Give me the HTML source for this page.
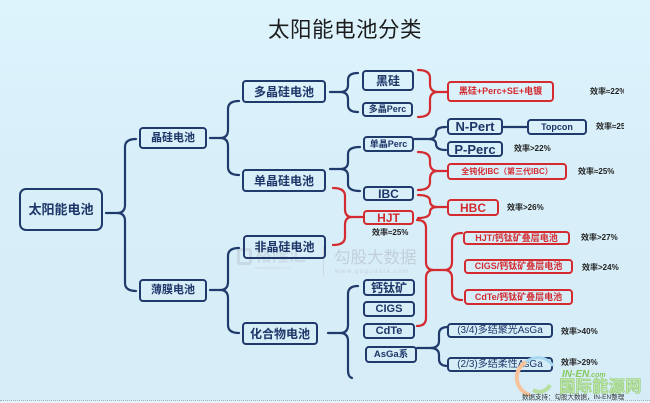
<!DOCTYPE html>
<html><head><meta charset="utf-8">
<style>
html,body{margin:0;padding:0;}
body{width:650px;height:403px;position:relative;overflow:hidden;
background:linear-gradient(#def4fd,#d8eff9 40%,#d6edf8);
font-family:"Liberation Sans","Noto Sans CJK SC",sans-serif;}
#clip{position:absolute;left:0;top:0;width:624px;height:400px;overflow:hidden;}
.b{position:absolute;box-sizing:border-box;border:2px solid #213a6c;border-radius:4px;
display:flex;align-items:center;justify-content:center;color:#1e3668;font-weight:bold;white-space:nowrap;line-height:1;}
.r{border-color:#d42b30;color:#d42b30;}
.t{position:absolute;font-size:8px;font-weight:bold;color:#222;white-space:nowrap;line-height:1;transform:translateY(-50%);}
svg{position:absolute;left:0;top:0;}
</style></head><body>
<div style="position:absolute;left:268px;top:20px;font-size:21.5px;color:#1c1c1c;letter-spacing:0.5px;line-height:1;font-family:'Liberation Sans','Noto Sans CJK SC',sans-serif;">太阳能电池分类</div>

<!-- watermarks -->
<div style="position:absolute;left:237px;top:248px;width:15px;height:17px;border:3px solid #c8d9e5;border-radius:3px;box-sizing:border-box;"></div>
<div style="position:absolute;left:255px;top:247px;font-size:17px;color:#cbdbe6;font-weight:bold;line-height:1;">格隆汇</div>
<div style="position:absolute;left:255px;top:266px;font-size:4px;color:#c6d7e3;line-height:1;">www.gelonghui.com</div>
<div style="position:absolute;left:323px;top:246px;width:1px;height:30px;background:#cbd9e3;"></div>
<div style="position:absolute;left:334px;top:250px;font-size:16.5px;color:#c2cfd9;line-height:1;">勾股大数据</div>
<div style="position:absolute;left:335px;top:269px;font-size:6.5px;color:#c6d1da;letter-spacing:1.1px;line-height:1;">www.gogudata.com</div>

<div id="clip">
<svg width="650" height="403" viewBox="0 0 650 403" fill="none" stroke-linecap="round" stroke-linejoin="round">
<g stroke="#213a6c" stroke-width="2.2">
<path d="M106 213 L117 213 M136 139 Q125 139 125 147 L125 205 Q125 213 117 213 Q125 213 125 221 L125 283 Q125 291 136 291"/>
<path d="M210 138 L220 138 M239 101 Q228 101 228 109 L228 130 Q228 138 220 138 Q228 138 228 146 L228 167 Q228 175 239 175"/>
<path d="M210 290 L220 290 M239 248 Q228 248 228 256 L228 282 Q228 290 220 290 Q228 290 228 298 L228 325 Q228 333 239 333"/>
<path d="M330 92 L340 92 M358 73 Q348 73 348 80 L348 85 Q348 92 340 92 Q348 92 348 99 L348 105 Q348 112 358 112"/>
<path d="M330 169 L340 169 M360 147 Q348 147 348 154 L348 162 Q348 169 340 169 Q348 169 348 176 L348 184 Q348 191 360 191"/>
<path d="M328 333 L340 333 M358 286 Q348 286 348 294 L348 325 Q348 333 340 333 Q348 333 348 341 L348 370 Q348 377 352 378"/>
<path d="M414 139 L428 139 M446 127 Q436 127 436 133 Q436 139 428 139 Q436 139 436 144 Q436 150 446 150"/>
<path d="M417 348 L430 348 M448 327 Q439 327 439 334 L439 341 Q439 348 430 348 Q439 348 439 355 L439 359 Q439 366 448 366"/>
<path d="M503 127 L527 127"/>
</g>
<g stroke="#d42b30" stroke-width="2.2">
<path d="M418 70 Q430 70 430 78 L430 84 Q430 92 438 92 Q430 92 430 100 L430 109 Q430 117 418 117 M438 92 L447 92"/>
<path d="M418 152 Q430 152 430 160 L430 163 Q430 171 438 171 Q430 171 430 179 L430 182 Q430 190 418 190 M438 171 L447 171"/>
<path d="M418 195 Q430 195 430 201 Q430 207 438 207 Q430 207 430 212 Q430 218 418 218 M438 207 L447 207"/>
<path d="M333 188 Q345 188 345 196 L345 209 Q345 217 352 217 Q345 217 345 225 L345 237 Q345 245 333 245 M352 217 L363 217"/>
<path d="M417 220 Q426 220 426 228 L426 262 Q426 270 434 270 Q426 270 426 278 L426 318 Q426 326 417 326 M434 270 L444 270"/>
<path d="M462 233 Q452 233 452 241 L452 262 Q452 270 444 270 Q452 270 452 278 L452 292 Q452 300 462 300"/>
</g>
</svg>

<div class="b" style="left:19px;top:188px;width:84px;height:43px;border-radius:7px;font-size:13px;">太阳能电池</div>
<div class="b" style="left:139px;top:127px;width:68px;height:22px;font-size:11px;">晶硅电池</div>
<div class="b" style="left:139px;top:279px;width:68px;height:23px;font-size:11px;">薄膜电池</div>
<div class="b" style="left:242px;top:80px;width:84px;height:23px;font-size:12px;">多晶硅电池</div>
<div class="b" style="left:242px;top:169px;width:84px;height:23px;font-size:12px;">单晶硅电池</div>
<div class="b" style="left:243px;top:235px;width:83px;height:24px;font-size:12px;">非晶硅电池</div>
<div class="b" style="left:242px;top:322px;width:76px;height:23px;font-size:12px;">化合物电池</div>
<div class="b" style="left:362px;top:70px;width:52px;height:21px;font-size:12px;">黑硅</div>
<div class="b" style="left:362px;top:102px;width:51px;height:15px;font-size:9px;">多晶Perc</div>
<div class="b" style="left:363px;top:136px;width:51px;height:16px;font-size:9px;">单晶Perc</div>
<div class="b" style="left:363px;top:186px;width:51px;height:15px;font-size:12px;">IBC</div>
<div class="b r" style="left:363px;top:210px;width:51px;height:15px;font-size:12px;">HJT</div>
<div class="b" style="left:363px;top:279px;width:52px;height:17px;font-size:12px;">钙钛矿</div>
<div class="b" style="left:363px;top:301px;width:52px;height:16px;font-size:11px;">CIGS</div>
<div class="b" style="left:363px;top:323px;width:52px;height:16px;font-size:11px;">CdTe</div>
<div class="b" style="left:365px;top:346px;width:52px;height:17px;font-size:9.5px;">AsGa系</div>
<div class="b" style="left:447px;top:118px;width:56px;height:17px;font-size:13px;">N-Pert</div>
<div class="b" style="left:447px;top:141px;width:56px;height:16px;font-size:13px;">P-Perc</div>
<div class="b" style="left:527px;top:119px;width:60px;height:16px;font-size:9px;">Topcon</div>
<div class="b" style="left:447px;top:323px;width:106px;height:15px;font-size:10px;font-weight:normal;">(3/4)多结聚光AsGa</div>
<div class="b" style="left:447px;top:357px;width:106px;height:15px;font-size:10px;font-weight:normal;">(2/3)多结柔性AsGa</div>

<div class="b r" style="left:447px;top:81px;width:107px;height:21px;font-size:9px;">黑硅+Perc+SE+电镀</div>
<div class="b r" style="left:447px;top:163px;width:120px;height:17px;font-size:8px;">全钝化IBC（第三代IBC）</div>
<div class="b r" style="left:447px;top:199px;width:52px;height:17px;font-size:12px;">HBC</div>
<div class="b r" style="left:463px;top:231px;width:107px;height:14px;font-size:9px;">HJT/钙钛矿叠层电池</div>
<div class="b r" style="left:464px;top:259px;width:109px;height:15px;font-size:9px;">CIGS/钙钛矿叠层电池</div>
<div class="b r" style="left:464px;top:289px;width:109px;height:16px;font-size:9px;">CdTe/钙钛矿叠层电池</div>

<div class="t" style="left:590px;top:92px;">效率≈22%</div>
<div class="t" style="left:596px;top:127px;">效率≈25%</div>
<div class="t" style="left:514px;top:149px;">效率&gt;22%</div>
<div class="t" style="left:578px;top:172px;">效率≈25%</div>
<div class="t" style="left:507px;top:208px;">效率&gt;26%</div>
<div class="t" style="left:372px;top:233px;">效率≈25%</div>
<div class="t" style="left:581px;top:238px;">效率&gt;27%</div>
<div class="t" style="left:582px;top:268px;">效率&gt;24%</div>
<div class="t" style="left:561px;top:332px;">效率&gt;40%</div>
<div class="t" style="left:561px;top:363px;">效率&gt;29%</div>
</div>

<!-- bottom right logo -->
<svg width="650" height="403" viewBox="0 0 650 403" fill="none">
<path d="M530 395 A18 18 0 0 1 526 362" stroke="#f7c39c" stroke-width="4"/>
<path d="M526 362 A18 18 0 0 1 553 366" stroke="#a8d8ef" stroke-width="3"/>
<path d="M533 390 A12 12 0 0 0 550 385" stroke="#b6dfa0" stroke-width="4"/>
</svg>
<div style="position:absolute;left:562px;top:370px;font-size:10px;font-weight:bold;font-style:italic;color:#86c85c;line-height:1;">IN-EN<span style="font-size:7px;">.com</span></div>
<div style="position:absolute;left:559px;top:379px;font-size:16.5px;font-weight:bold;color:#c0e6ab;-webkit-text-stroke:0.5px #8cc86c;line-height:1;">国际能源网</div>
<div style="position:absolute;left:0;top:400px;width:650px;height:0;border-top:1px dotted #9fb3c0;"></div>
<div style="position:absolute;left:0;top:401px;width:650px;height:2px;background:#e6f2f7;"></div>
<div style="position:absolute;left:522px;top:395px;font-size:6.5px;color:#333;line-height:1;white-space:nowrap;">数据支持：勾股大数据，IN-EN整理</div>
</body></html>
